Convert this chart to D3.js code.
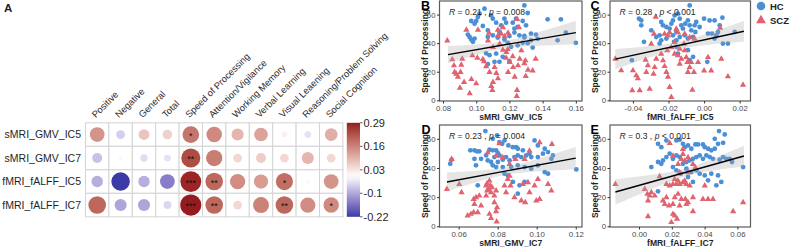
<!DOCTYPE html>
<html lang="en">
<head>
<meta charset="UTF-8">
<title>Correlation matrix and speed of processing scatter plots</title>
<script src="https://cdn.jsdelivr.net/npm/d3@7"></script>
<style>
  body { margin: 0; background: #fff; }
  svg { display: block; font-family: "Liberation Sans", Arial, sans-serif; }
</style>
</head>
<body>
<svg id="chart" width="790" height="249"></svg>
<script>
// ---------- panel A: correlation matrix ----------
const rowLabels = ["sMRI_GMV_IC5", "sMRI_GMV_IC7", "fMRI_fALFF_IC5", "fMRI_fALFF_IC7"];
const colLabels = ["Positive", "Negative", "General", "Total", "Speed of Processing",
  "Attention/Vigilance", "Working Memory", "Verbal Learning", "Visual Leaening",
  "Reasoning/Problem Solving", "Social Cognition"];
const corrValues = [
  [0.14, -0.05, 0.075, 0.06, 0.18, 0.155, 0.095, 0.12, 0.02, -0.03, 0.105],
  [-0.065, 0.01, -0.035, -0.03, 0.235, 0.17, 0.05, 0.065, 0.05, 0.095, 0.05],
  [-0.085, -0.22, -0.085, -0.14, 0.28, 0.2, 0.15, 0.13, 0.19, 0.012, 0.14],
  [0.2, -0.095, -0.095, -0.04, 0.29, 0.2, 0.05, 0.165, 0.2, 0.15, 0.155]
];
const sigMarks = [
  ["", "", "", "", "*", "", "", "", "", "", ""],
  ["", "", "", "", "**", "", "", "", "", "", ""],
  ["", "", "", "", "***", "**", "", "", "*", "", ""],
  ["", "", "", "", "***", "**", "", "", "**", "", "*"]
];
const colorbarTicks = [0.29, 0.16, 0.03, -0.1, -0.22];

// ---------- panels B-E: scatter data [x, speed of processing] ----------
const yTicks = [0, 20, 40, 60];

const hcB = [[0.105,64.1],[0.129,66.4],[0.101,58.3],[0.102,60.6],[0.097,55.5],[0.099,53.6],[0.100,55.5],
  [0.109,59.4],[0.110,57.1],[0.112,54.3],[0.115,52.5],[0.117,57.1],[0.118,54.3],[0.122,54.3],[0.124,57.1],
  [0.125,51.3],[0.128,55.5],[0.130,52.5],[0.131,61.1],[0.123,50.2],[0.123,47.4],[0.126,45.5],[0.129,45.0],
  [0.133,46.7],[0.136,46.0],[0.143,56.7],[0.151,56.7],[0.154,47.4],[0.160,40.2],[0.149,42.0],[0.095,46.0],
  [0.096,44.3],[0.097,42.5],[0.098,40.9],[0.099,43.2],[0.107,49.0],[0.107,44.3],[0.110,45.5],[0.113,43.9],
  [0.117,42.5],[0.119,40.2],[0.121,37.4],[0.125,38.5],[0.128,40.2],[0.134,36.9],[0.106,32.9],[0.108,31.6],
  [0.112,32.7],[0.116,30.4],[0.120,27.4],[0.107,25.3],[0.111,26.9],[0.114,26.9],[0.129,44.0],[0.131,40.0],
  [0.133,42.0],[0.120,45.0],[0.104,52.0],[0.114,48.0],[0.137,43.0]];
const sczB = [[0.0826,42.0],[0.0856,28.8],[0.0866,24.6],[0.0880,18.8],[0.0890,16.6],[0.0906,20.0],[0.0916,29.2],
  [0.0927,13.0],[0.0902,9.0],[0.0961,5.1],[0.0971,15.0],[0.0977,31.6],[0.0941,49.5],[0.1011,49.5],[0.1007,29.9],
  [0.1047,27.4],[0.1071,42.0],[0.1077,47.4],[0.1101,37.4],[0.1111,23.4],[0.1121,19.3],[0.1101,13.0],[0.1091,10.1],
  [0.1097,7.4],[0.1131,15.5],[0.1131,49.5],[0.1151,46.7],[0.1171,45.0],[0.1192,47.4],[0.1141,39.7],[0.1161,35.5],
  [0.1182,33.9],[0.1202,26.9],[0.1192,20.0],[0.1222,23.4],[0.1232,16.6],[0.1246,7.4],[0.1244,3.2],[0.1252,24.6],
  [0.1262,29.2],[0.1272,35.1],[0.1296,28.1],[0.1312,21.6],[0.1298,17.2],[0.1358,29.2],[0.1258,51.3],[0.1246,57.1],
  [0.1131,45.5],[0.1161,51.3],[0.091,25.0],[0.104,29.0],[0.106,24.0],[0.108,20.0],[0.118,30.0],[0.119,36.0],
  [0.122,31.0],[0.129,26.0],[0.134,21.0],[0.100,12.0],[0.087,20.0]];
const ticksB = [0.08, 0.10, 0.12, 0.14, 0.16];
const fitB = [[0.083, 32.0], [0.160, 47.4]];
const statB = ["0.21", "=", "0.008"];

const hcC = [[-0.0081,66.4],[-0.0366,57.1],[-0.0353,55.9],[-0.0353,52.5],[-0.0338,40.9],[-0.0297,49.0],
  [-0.0269,44.3],[-0.0250,45.5],[-0.0241,54.8],[-0.0231,52.5],[-0.0212,51.3],[-0.0194,50.2],[-0.0184,53.6],
  [-0.0175,55.9],[-0.0166,59.4],[-0.0147,60.6],[-0.0137,57.1],[-0.0128,52.5],[-0.0119,50.2],[-0.0106,53.6],
  [-0.0091,55.9],[-0.0081,52.5],[-0.0072,49.0],[-0.0053,52.5],[-0.0044,54.8],[-0.0025,51.3],[-0.0049,47.8],
  [-0.0250,39.7],[-0.0241,42.0],[-0.0212,43.2],[-0.0175,45.5],[-0.0156,47.8],[-0.0137,44.3],[-0.0109,45.5],
  [-0.0091,43.2],[-0.0062,44.3],[0.0000,57.1],[0.0031,55.9],[0.0059,55.9],[0.0103,57.8],[0.0088,52.5],
  [0.0022,46.7],[0.0044,46.7],[0.0069,45.5],[0.0078,47.8],[0.0059,43.2],[0.0106,39.7],[0.0134,39.7],
  [0.0172,47.8],[-0.0156,37.4],[-0.0147,32.7],[-0.0091,35.1],[-0.0081,28.1],[-0.0062,30.4],[0.0018,26.9],
  [-0.0406,28.1],[-0.0169,40.9],[-0.0156,42.0]];
const sczC = [[-0.0499,29.2],[-0.0466,21.1],[-0.0400,21.1],[-0.0381,17.6],[-0.0372,15.5],[-0.0404,7.2],
  [-0.0362,7.2],[-0.0329,28.5],[-0.0316,24.6],[-0.0325,20.0],[-0.0284,18.8],[-0.0278,23.4],[-0.0306,8.3],
  [-0.0269,29.2],[-0.0241,32.7],[-0.0231,28.1],[-0.0222,24.1],[-0.0212,20.0],[-0.0203,16.6],[-0.0184,2.5],
  [-0.0194,9.5],[-0.0207,35.1],[-0.0184,37.4],[-0.0166,32.7],[-0.0147,31.6],[-0.0128,29.2],[-0.0137,25.8],
  [-0.0297,39.7],[-0.0282,46.7],[-0.0222,46.7],[-0.0203,45.5],[-0.0194,47.8],[-0.0156,50.2],[-0.0147,47.8],
  [-0.0109,46.7],[-0.0081,44.3],[-0.0053,43.2],[-0.0113,39.7],[-0.0109,35.1],[-0.0100,30.4],[-0.0094,26.9],
  [-0.0081,23.4],[-0.0072,26.9],[-0.0091,20.0],[-0.0057,20.0],[-0.0034,26.9],[-0.0066,7.6],[0.0022,30.4],
  [0.0097,29.2],[0.0134,16.9],[0.0219,11.1],[-0.0272,58.7],[-0.0166,40.9],[-0.0137,36.2],[0.0000,21.0],
  [0.0040,21.0],[0.0090,51.0]];
const ticksC = [-0.04, -0.02, 0.00, 0.02];
const fitC = [[-0.0499, 28.8], [0.0224, 48.3]];
const statC = ["0.28", "<", "0.001"];

const hcD = [[0.0737,65.3],[0.0775,60.0],[0.0797,62.3],[0.0809,57.8],[0.0823,56.6],[0.0835,58.9],[0.0855,55.5],
  [0.0878,54.3],[0.0895,54.3],[0.0903,53.2],[0.0929,52.1],[0.0989,58.9],[0.1006,55.5],[0.1041,53.2],[0.0660,52.1],
  [0.0681,52.1],[0.0694,51.4],[0.0706,51.4],[0.0758,52.5],[0.0775,52.1],[0.0792,52.1],[0.0801,50.2],[0.0809,48.6],
  [0.0557,42.9],[0.0564,45.7],[0.0681,46.3],[0.0689,41.8],[0.0715,46.3],[0.0741,48.6],[0.0749,45.2],[0.0766,44.1],
  [0.0775,41.8],[0.0783,47.5],[0.0801,44.1],[0.0826,45.7],[0.0843,47.5],[0.0861,45.2],[0.0886,47.5],[0.0903,48.6],
  [0.0921,47.5],[0.0946,48.6],[0.0963,49.8],[0.0972,47.5],[0.1006,47.5],[0.1032,49.8],[0.1058,50.9],[0.1083,48.6],
  [0.1075,46.3],[0.0792,40.6],[0.0826,40.6],[0.0869,40.6],[0.0903,41.8],[0.0938,40.6],[0.0972,39.5],[0.1006,41.8],
  [0.1041,37.2],[0.1058,36.1],[0.1203,39.0],[0.0698,28.1],[0.0835,36.1],[0.0852,34.9],[0.0878,30.4],[0.0912,28.1],
  [0.0938,30.4],[0.0903,22.4]];
const sczD = [[0.0540,25.8],[0.0564,46.3],[0.0603,29.2],[0.0615,23.5],[0.0677,18.9],[0.0689,20.1],[0.0706,21.2],
  [0.0681,15.5],[0.0715,14.4],[0.0646,7.5],[0.0663,8.7],[0.0677,9.8],[0.0698,9.8],[0.0741,28.1],[0.0746,29.7],
  [0.0753,25.8],[0.0758,31.5],[0.0763,28.1],[0.0766,23.5],[0.0771,26.9],[0.0746,24.7],[0.0741,21.2],[0.0783,21.2],
  [0.0783,16.7],[0.0797,13.2],[0.0792,10.5],[0.0766,5.9],[0.0795,3.4],[0.0758,8.7],[0.0792,24.7],[0.0835,28.1],
  [0.0843,23.5],[0.0852,32.6],[0.0861,34.9],[0.0866,28.1],[0.0886,20.1],[0.0921,17.8],[0.0941,16.7],[0.0929,29.2],
  [0.0955,30.4],[0.0963,23.5],[0.0989,28.1],[0.0998,17.8],[0.1015,18.9],[0.1058,29.2],[0.1075,24.7],[0.0749,50.9],
  [0.0792,48.6],[0.0809,57.1],[0.0861,42.9],[0.0891,46.3],[0.0938,46.3],[0.0963,52.1],[0.1015,57.8],[0.1078,56.6],
  [0.1006,32.6],[0.0826,47.5]];
const ticksD = [0.06, 0.08, 0.10, 0.12];
const fitD = [[0.054, 30.4], [0.120, 46.8]];
const statD = ["0.23", "=", "0.004"];

const hcE = [[0.0488,65.3],[0.0523,63.0],[0.0462,60.0],[0.0513,57.3],[0.0116,56.6],[0.0136,54.3],[0.0167,58.9],
  [0.0228,58.9],[0.0248,59.4],[0.0268,56.6],[0.0279,54.3],[0.0299,55.5],[0.0319,53.2],[0.0344,56.2],[0.0360,56.2],
  [0.0390,56.2],[0.0401,54.3],[0.0421,53.2],[0.0441,52.1],[0.0462,53.2],[0.0482,56.6],[0.0075,40.6],[0.0116,44.1],
  [0.0136,42.9],[0.0146,45.2],[0.0167,47.5],[0.0187,49.8],[0.0207,46.3],[0.0228,48.6],[0.0248,47.5],[0.0268,42.9],
  [0.0289,44.1],[0.0309,45.2],[0.0329,46.3],[0.0350,47.5],[0.0370,48.6],[0.0390,46.3],[0.0411,48.6],[0.0431,47.5],
  [0.0451,46.3],[0.0492,45.7],[0.0513,47.5],[0.0533,46.3],[0.0553,46.3],[0.0567,44.1],[0.0635,40.6],[0.0207,40.6],
  [0.0228,38.4],[0.0254,36.1],[0.0289,39.5],[0.0319,37.2],[0.0350,38.4],[0.0370,36.1],[0.0401,34.9],[0.0441,36.1],
  [0.0482,34.9],[0.0421,31.5],[0.0472,28.1],[0.0502,30.4],[0.0116,24.0],[0.0299,33.8],[0.0329,30.4]];
const sczE = [[-0.0144,29.2],[0.0187,57.3],[0.0268,53.2],[0.0207,48.6],[0.0035,25.8],[0.0051,22.4],[0.0065,21.2],
  [0.0075,23.5],[0.0096,21.2],[0.0055,17.8],[0.0126,34.5],[0.0167,29.2],[0.0187,28.1],[0.0207,29.2],[0.0228,29.2],
  [0.0248,29.2],[0.0268,30.4],[0.0289,29.2],[0.0309,28.1],[0.0146,17.8],[0.0167,20.1],[0.0218,20.1],[0.0238,22.4],
  [0.0258,18.9],[0.0283,18.9],[0.0299,16.7],[0.0329,20.1],[0.0390,18.9],[0.0421,18.9],[0.0451,18.9],[0.0207,15.5],
  [0.0248,14.4],[0.0289,15.5],[0.0157,15.5],[0.0183,14.4],[0.0055,7.1],[0.0207,8.7],[0.0218,7.5],[0.0232,5.3],
  [0.0197,3.0],[0.0329,10.5],[0.0574,10.5],[0.0635,16.7],[0.0238,42.9],[0.0258,46.3],[0.0279,45.2],[0.0268,49.8],
  [0.0299,47.5],[0.0329,42.9],[0.0344,40.6],[0.0299,37.2],[0.0401,28.1],[0.0279,31.5],[0.0218,32.6],[0.0238,31.5],
  [0.0248,37.2]];
const ticksE = [0.00, 0.02, 0.04, 0.06];
const fitE = [[-0.0144, 23.5], [0.064, 48.2]];
const statE = ["0.3", "<", "0.001"];

// ---------- drawing ----------
const svg = d3.select("#chart");
const hcColor = "#4b8fd7";
const sczColor = "#e0636f";
const textDark = "#1f1f1f";

// color scale for correlations: blue - white - dark red, white at 0
const corrColor = d3.scaleLinear()
  .domain([-0.22, 0, 0.29])
  .range(["#3b3ba7", "#ffffff", "#951b1f"])
  .interpolate(d3.interpolateLab)
  .clamp(true);

// panel letter A
svg.append("text").attr("x", 4).attr("y", 11.5)
  .attr("font-size", 11.5).attr("font-weight", "bold").attr("fill", textDark).text("A");

const grid = { left: 85.5, top: 122.8, cw: 23.4, ch: 23.5 };
const xCell = d3.scaleBand().domain(d3.range(colLabels.length))
  .range([grid.left, grid.left + grid.cw * colLabels.length]);
const yCell = d3.scaleBand().domain(d3.range(rowLabels.length))
  .range([grid.top, grid.top + grid.ch * rowLabels.length]);
const radius = d3.scaleSqrt().domain([0, 0.29]).range([0, 10.6]);

const matrix = svg.append("g");

// cell backgrounds and grid lines
corrValues.forEach((row, i) => {
  row.forEach((v, j) => {
    matrix.append("rect")
      .attr("x", xCell(j)).attr("y", yCell(i))
      .attr("width", xCell.bandwidth()).attr("height", yCell.bandwidth())
      .attr("fill", "#fff").attr("stroke", "#d4d4d4").attr("stroke-width", 1);
  });
});

// circles
const cells = corrValues.flatMap((row, i) => row.map((v, j) => ({ i, j, v, sig: sigMarks[i][j] })));
matrix.selectAll("circle.corr").data(cells).join("circle")
  .attr("class", "corr")
  .attr("cx", d => xCell(d.j) + xCell.bandwidth() / 2)
  .attr("cy", d => yCell(d.i) + yCell.bandwidth() / 2)
  .attr("r", d => radius(Math.abs(d.v)))
  .attr("fill", d => corrColor(d.v));

matrix.selectAll("text.sig").data(cells.filter(d => d.sig)).join("text")
  .attr("class", "sig")
  .attr("x", d => xCell(d.j) + xCell.bandwidth() / 2)
  .attr("y", d => yCell(d.i) + yCell.bandwidth() / 2 + 4.2)
  .attr("text-anchor", "middle")
  .attr("font-size", 9).attr("fill", "#111")
  .text(d => d.sig);

// row labels
matrix.selectAll("text.row").data(rowLabels).join("text")
  .attr("class", "row")
  .attr("x", grid.left - 4.5)
  .attr("y", (d, i) => yCell(i) + yCell.bandwidth() / 2)
  .attr("dy", "0.36em")
  .attr("text-anchor", "end")
  .attr("font-size", 10.5).attr("fill", textDark)
  .text(d => d);

// column labels, rotated
matrix.selectAll("text.col").data(colLabels).join("text")
  .attr("class", "col")
  .attr("transform", (d, j) => `translate(${xCell(j) + xCell.bandwidth() / 2 - 1.5},${grid.top - 4.5}) rotate(-45)`)
  .attr("font-size", 9.4).attr("fill", "#2a2a2a")
  .text(d => d);

// colour bar
const cbar = { x: 346.8, w: 13.2, top: grid.top, bottom: grid.top + grid.ch * rowLabels.length };
const cbarScale = d3.scaleLinear().domain([-0.22, 0.29]).range([cbar.bottom, cbar.top]);
const grad = svg.append("defs").append("linearGradient")
  .attr("id", "cbarGrad").attr("x1", 0).attr("y1", 1).attr("x2", 0).attr("y2", 0);
d3.range(0, 21).forEach(k => {
  const v = -0.22 + (0.51 * k) / 20;
  grad.append("stop").attr("offset", k / 20).attr("stop-color", corrColor(v));
});
svg.append("rect")
  .attr("x", cbar.x).attr("y", cbar.top)
  .attr("width", cbar.w).attr("height", cbar.bottom - cbar.top)
  .attr("fill", "url(#cbarGrad)");
const cbarTickY = d3.scalePoint().domain(colorbarTicks).range([cbar.top, cbar.bottom]);
const cbarG = svg.append("g");
colorbarTicks.forEach(t => {
  const yy = cbarTickY(t);
  cbarG.append("line").attr("x1", cbar.x + cbar.w).attr("x2", cbar.x + cbar.w + 2.5)
    .attr("y1", yy).attr("y2", yy).attr("stroke", "#333").attr("stroke-width", 0.8);
  cbarG.append("text").attr("x", cbar.x + cbar.w + 3.5).attr("y", yy).attr("dy", "0.36em")
    .attr("font-size", 11).attr("fill", textDark).text(t);
});

// ---------- scatter panels ----------
const yDomain = [-0.5, 69.5];

function regressionBand(points, fit) {
  const slope = (fit[1][1] - fit[0][1]) / (fit[1][0] - fit[0][0]);
  const icpt = fit[0][1] - slope * fit[0][0];
  const n = points.length;
  const mx = d3.mean(points, d => d[0]);
  const sxx = d3.sum(points, d => (d[0] - mx) ** 2);
  const sse = d3.sum(points, d => (d[1] - icpt - slope * d[0]) ** 2);
  const s = Math.sqrt(sse / (n - 2));
  return d3.range(0, 41).map(k => {
    const xv = fit[0][0] + (fit[1][0] - fit[0][0]) * k / 40;
    const se = s * Math.sqrt(1 / n + (xv - mx) ** 2 / sxx);
    const yv = icpt + slope * xv;
    return [xv, yv - 1.97 * se, yv + 1.97 * se];
  });
}

function scatterPanel(p) {
  const x = d3.scaleLinear().domain(p.xDomain).range([p.left, p.right]);
  const y = d3.scaleLinear().domain(yDomain).range([p.bottom, p.top]);
  const g = svg.append("g");

  g.append("rect").attr("x", p.left).attr("y", p.top)
    .attr("width", p.right - p.left).attr("height", p.bottom - p.top).attr("fill", "#fff");

  const clipId = "clip" + p.letter;
  g.append("clipPath").attr("id", clipId).append("rect")
    .attr("x", p.left).attr("y", p.top).attr("width", p.right - p.left).attr("height", p.bottom - p.top);
  const plot = g.append("g").attr("clip-path", `url(#${clipId})`);

  plot.selectAll("circle.hc").data(p.hc).join("circle")
    .attr("class", "hc")
    .attr("cx", d => x(d[0])).attr("cy", d => y(d[1]))
    .attr("r", 2.4).attr("fill", hcColor);

  plot.selectAll("path.scz").data(p.scz).join("path")
    .attr("class", "scz")
    .attr("d", d3.symbol(d3.symbolTriangle, 17))
    .attr("transform", d => `translate(${x(d[0])},${y(d[1]) + 0.4})`)
    .attr("fill", sczColor);

  const band = regressionBand(p.hc.concat(p.scz), p.fit);
  plot.append("path").datum(band)
    .attr("d", d3.area().x(d => x(d[0])).y0(d => y(d[1])).y1(d => y(d[2])))
    .attr("fill", "#a8a8a8").attr("fill-opacity", 0.3);

  plot.append("path").datum(p.fit)
    .attr("d", d3.line().x(d => x(d[0])).y(d => y(d[1])))
    .attr("fill", "none").attr("stroke", "#000").attr("stroke-width", 1.4);

  g.append("rect").attr("x", p.left).attr("y", p.top)
    .attr("width", p.right - p.left).attr("height", p.bottom - p.top)
    .attr("fill", "none").attr("stroke", "#5c5c5c").attr("stroke-width", 1.2);

  const xAxis = g.append("g").attr("transform", `translate(0,${p.bottom})`)
    .call(d3.axisBottom(x).tickValues(p.ticks).tickSize(2.5).tickPadding(1.5).tickFormat(d => d.toFixed(2)));
  const yAxis = g.append("g").attr("transform", `translate(${p.left},0)`)
    .call(d3.axisLeft(y).tickValues(yTicks).tickSize(2.5).tickPadding(1.5).tickFormat(d => d));
  [xAxis, yAxis].forEach(a => {
    a.select(".domain").remove();
    a.selectAll(".tick line").attr("stroke", "#333");
    a.selectAll(".tick text").attr("fill", "#4a4a4a").attr("font-size", 7.8)
      .attr("font-family", "Liberation Sans, Arial, sans-serif");
  });

  g.append("text")
    .attr("x", (p.left + p.right) / 2).attr("y", p.bottom + 18.5)
    .attr("text-anchor", "middle").attr("font-size", 8.6).attr("font-weight", "bold")
    .attr("fill", textDark).text(p.xTitle);

  g.append("text")
    .attr("transform", `translate(${p.left - 12},${(p.top + p.bottom) / 2}) rotate(-90)`)
    .attr("text-anchor", "middle").attr("font-size", 8.5).attr("font-weight", "bold")
    .attr("fill", textDark).text("Speed of Processing");

  g.append("text").attr("x", p.letterX).attr("y", p.top + 9)
    .attr("font-size", 12.5).attr("font-weight", "bold").attr("fill", "#000").text(p.letter);

  const ann = g.append("text").attr("x", p.left + 9.5).attr("y", p.top + 14.2)
    .attr("font-size", 8.6).attr("fill", textDark);
  ann.append("tspan").attr("font-style", "italic").text("R");
  ann.append("tspan").text(` = ${p.stat[0]} , `);
  ann.append("tspan").attr("font-style", "italic").text("p");
  ann.append("tspan").text(` ${p.stat[1]} ${p.stat[2]}`);
}

scatterPanel({ letter: "B", letterX: 421, left: 439.5, right: 582, top: 1, bottom: 101,
  xDomain: [0.0779, 0.1637], hc: hcB, scz: sczB, ticks: ticksB, fit: fitB, stat: statB, xTitle: "sMRI_GMV_IC5" });
scatterPanel({ letter: "C", letterX: 590.5, left: 610, right: 750.5, top: 1, bottom: 101,
  xDomain: [-0.0529, 0.0261], hc: hcC, scz: sczC, ticks: ticksC, fit: fitC, stat: statC, xTitle: "fMRI_fALFF_IC5" });
scatterPanel({ letter: "D", letterX: 421.5, left: 439.5, right: 582, top: 125, bottom: 227,
  xDomain: [0.0502, 0.1232], hc: hcD, scz: sczD, ticks: ticksD, fit: fitD, stat: statD, xTitle: "sMRI_GMV_IC7" });
scatterPanel({ letter: "E", letterX: 590.5, left: 610, right: 750.5, top: 125, bottom: 227,
  xDomain: [-0.0177, 0.0680], hc: hcE, scz: sczE, ticks: ticksE, fit: fitE, stat: statE, xTitle: "fMRI_fALFF_IC7" });

// legend
const legend = svg.append("g");
legend.append("circle").attr("cx", 761).attr("cy", 6).attr("r", 4.3).attr("fill", hcColor);
legend.append("text").attr("x", 770).attr("y", 9.8).attr("font-size", 9.5).attr("font-weight", "bold")
  .attr("fill", "#222").text("HC");
legend.append("path").attr("d", d3.symbol(d3.symbolTriangle, 42))
  .attr("transform", "translate(761,20.5)").attr("fill", sczColor);
legend.append("text").attr("x", 770).attr("y", 23.8).attr("font-size", 9.5).attr("font-weight", "bold")
  .attr("fill", "#222").text("SCZ");
</script>
</body>
</html>
